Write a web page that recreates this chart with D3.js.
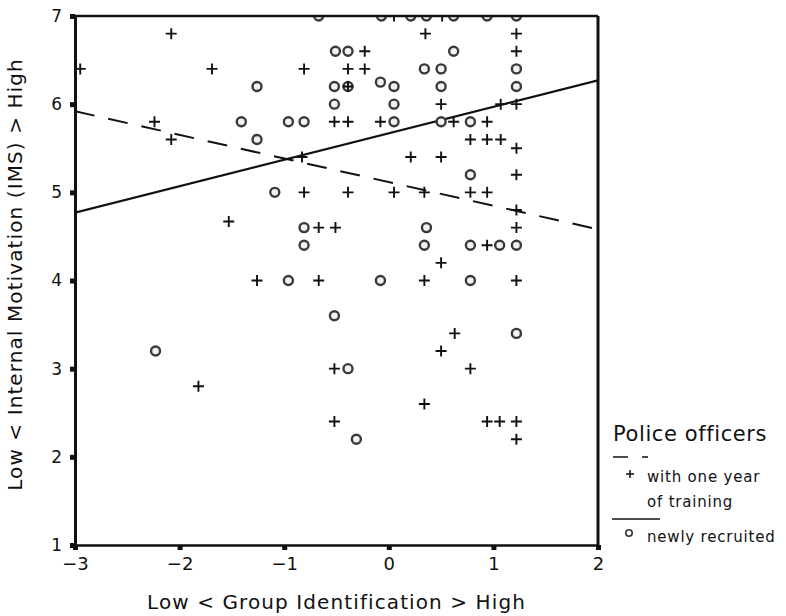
<!DOCTYPE html>
<html>
<head>
<meta charset="utf-8">
<script src="https://cdn.jsdelivr.net/npm/d3@7"></script>
<style>
  body { margin: 0; background: #fff; }
  svg { display: block; }
</style>
</head>
<body>
<svg id="chart"></svg>
<script>
// Police officers with one year of training (+)
const trainedX = [-2.95, -2.08, -1.69, -2.24, -2.08, 0.05, 0.51, 0.35, -0.23, -0.81, -0.39, -0.23,
  -0.39, 0.5, -0.52, -0.39, -0.08, 0.21, 0.5, -0.83, 1.22, 1.22, 1.07, 1.22, 0.62, 0.94,
  0.78, 0.94, 1.07, 1.22, -1.53, -1.26, -0.81, -0.39, 0.05, 0.34, -0.67, -0.51, 0.5, -0.67,
  0.34, 1.22, 0.78, 0.94, 1.22, 1.22, 0.94, 1.22, -1.82, 0.5, -0.52, 0.34, -0.52, 0.63,
  0.78, 0.94, 1.06, 1.22, 1.22];
const trainedY = [6.4, 6.8, 6.4, 5.8, 5.6, 7.0, 7.0, 6.8, 6.6, 6.4, 6.4, 6.4,
  6.2, 6.0, 5.8, 5.8, 5.8, 5.4, 5.4, 5.4, 6.8, 6.6, 6.0, 6.0, 5.8, 5.8,
  5.6, 5.6, 5.6, 5.5, 4.67, 4.0, 5.0, 5.0, 5.0, 5.0, 4.6, 4.6, 4.2, 4.0,
  4.0, 5.2, 5.0, 5.0, 4.8, 4.6, 4.4, 4.0, 2.8, 3.2, 3.0, 2.6, 2.4, 3.4,
  3.0, 2.4, 2.4, 2.4, 2.2];

// newly recruited police officers (o)
const recruitX = [-0.67, -0.07, 0.21, 0.36, 0.62, 0.94, 1.22, -0.51, -0.39, 0.62, 0.34, 0.5,
  1.22, -1.26, -0.52, -0.39, -0.08, 0.05, 0.5, 1.22, -0.52, 0.05, -1.41, -0.96, -0.81,
  0.05, 0.5, 0.78, -1.26, -1.09, 0.78, -0.81, 0.36, -0.81, 0.34, 0.78, 1.06, 1.22,
  -0.96, -0.08, 0.78, -2.23, -0.52, -0.39, -0.31, 1.22];
const recruitY = [7.0, 7.0, 7.0, 7.0, 7.0, 7.0, 7.0, 6.6, 6.6, 6.6, 6.4, 6.4,
  6.4, 6.2, 6.2, 6.2, 6.25, 6.2, 6.2, 6.2, 6.0, 6.0, 5.8, 5.8, 5.8,
  5.8, 5.8, 5.8, 5.6, 5.0, 5.2, 4.6, 4.6, 4.4, 4.4, 4.4, 4.4, 4.4,
  4.0, 4.0, 4.0, 3.2, 3.6, 3.0, 2.2, 3.4];

// regression lines (endpoints at x = -3 and x = 2)
const lineX = [-3, 2];
const trainedFit = [5.92, 4.58];
const recruitFit = [4.77, 6.27];

const xTicks = [-3, -2, -1, 0, 1, 2];
const yTicks = [1, 2, 3, 4, 5, 6, 7];

const W = 786, H = 616;
const margin = { top: 16, right: 188, bottom: 71, left: 75 };
const width = W - margin.left - margin.right;
const height = H - margin.top - margin.bottom;
const font = "'DejaVu Sans', sans-serif";

const svg = d3.select('#chart').attr('width', W).attr('height', H);
const g = svg.append('g').attr('transform', `translate(${margin.left},${margin.top})`);

const x = d3.scaleLinear().domain([-3, 2]).range([0, width]);
const y = d3.scaleLinear().domain([1, 7]).range([height, 0]);

g.append('clipPath').attr('id', 'plot-clip')
  .append('rect').attr('width', width).attr('height', height);

const plot = g.append('g').attr('clip-path', 'url(#plot-clip)');

// Regression lines
const line = d3.line().x(d => x(d[0])).y(d => y(d[1]));
plot.append('path')
  .datum(lineX.map((v, i) => [v, trainedFit[i]]))
  .attr('fill', 'none').attr('stroke', '#111').attr('stroke-width', 2)
  .attr('stroke-dasharray', '20,14')
  .attr('d', line);
plot.append('path')
  .datum(lineX.map((v, i) => [v, recruitFit[i]]))
  .attr('fill', 'none').attr('stroke', '#111').attr('stroke-width', 2.2)
  .attr('d', line);

// Circles
plot.selectAll('.rec')
  .data(recruitX.map((v, i) => [v, recruitY[i]]))
  .enter().append('circle')
  .attr('class', 'rec')
  .attr('cx', d => x(d[0])).attr('cy', d => y(d[1]))
  .attr('r', 4.5)
  .attr('fill', '#f2f2f2').attr('stroke', '#3a3a3a').attr('stroke-width', 2.4);

// Pluses
plot.selectAll('.trn')
  .data(trainedX.map((v, i) => [v, trainedY[i]]))
  .enter().append('path')
  .attr('class', 'trn')
  .attr('transform', d => `translate(${x(d[0])},${y(d[1])})`)
  .attr('d', 'M-5.5,0H5.5M0,-5.5V5.5')
  .attr('stroke', '#111').attr('stroke-width', 1.9).attr('fill', 'none');

// Axes
const xAxis = g.append('g')
  .attr('transform', `translate(0,${height})`)
  .call(d3.axisBottom(x).tickValues(xTicks).tickSize(5).tickSizeOuter(0).tickFormat(d3.format('d')));
xAxis.select('.domain').attr('stroke', '#111').attr('stroke-width', 2.5);
xAxis.selectAll('.tick line').attr('stroke', '#111').attr('stroke-width', 5);
xAxis.selectAll('.tick text')
  .attr('y', 12)
  .style('font-family', font).style('font-size', '18px').attr('fill', '#111');

const yAxis = g.append('g')
  .call(d3.axisLeft(y).tickValues(yTicks).tickSize(5).tickSizeOuter(0).tickFormat(d3.format('d')));
yAxis.select('.domain').attr('stroke', '#111').attr('stroke-width', 3);
yAxis.selectAll('.tick line').attr('stroke', '#111').attr('stroke-width', 5);
yAxis.selectAll('.tick text')
  .attr('x', -13)
  .style('font-family', font).style('font-size', '17px').attr('fill', '#111');

// Top and right borders
g.append('line').attr('x1', 0).attr('x2', width).attr('y1', 0).attr('y2', 0)
  .attr('stroke', '#111').attr('stroke-width', 2.5);
g.append('line').attr('x1', width).attr('x2', width).attr('y1', 0).attr('y2', height)
  .attr('stroke', '#111').attr('stroke-width', 3);

// Axis titles
g.append('text')
  .attr('x', width / 2).attr('y', height + 64)
  .attr('text-anchor', 'middle')
  .style('font-family', font).style('font-size', '20px').style('letter-spacing', '1.1px')
  .attr('fill', '#111')
  .text('Low < Group Identification > High');

g.append('text')
  .attr('transform', `translate(${-53},${height / 2 - 6}) rotate(-90)`)
  .attr('text-anchor', 'middle')
  .style('font-family', font).style('font-size', '20px').style('letter-spacing', '1.1px')
  .attr('fill', '#111')
  .text('Low < Internal Motivation (IMS) > High');

// Legend
const lg = svg.append('g').attr('transform', 'translate(613,0)');
lg.append('text').attr('x', 0).attr('y', 441)
  .style('font-family', font).style('font-size', '21px').style('letter-spacing', '0.6px')
  .attr('fill', '#111')
  .text('Police officers');
lg.append('line').attr('x1', 0).attr('x2', 15).attr('y1', 457).attr('y2', 457)
  .attr('stroke', '#111').attr('stroke-width', 1.5);
lg.append('line').attr('x1', 29).attr('x2', 35).attr('y1', 457).attr('y2', 457)
  .attr('stroke', '#111').attr('stroke-width', 1.5);
lg.append('path').attr('transform', 'translate(17,474)')
  .attr('d', 'M-4,0H4M0,-4V4')
  .attr('stroke', '#111').attr('stroke-width', 1.5);
lg.append('text').attr('x', 34).attr('y', 482)
  .style('font-family', font).style('font-size', '15px').style('letter-spacing', '0.8px')
  .attr('fill', '#111')
  .text('with one year');
lg.append('text').attr('x', 34).attr('y', 507)
  .style('font-family', font).style('font-size', '15px').style('letter-spacing', '0.8px')
  .attr('fill', '#111')
  .text('of training');
lg.append('line').attr('x1', -1).attr('x2', 47).attr('y1', 519).attr('y2', 519)
  .attr('stroke', '#111').attr('stroke-width', 1.5);
lg.append('circle').attr('cx', 16).attr('cy', 533).attr('r', 3.2)
  .attr('fill', '#fff').attr('stroke', '#333').attr('stroke-width', 1.6);
lg.append('text').attr('x', 34).attr('y', 542)
  .style('font-family', font).style('font-size', '15px').style('letter-spacing', '0.8px')
  .attr('fill', '#111')
  .text('newly recruited');
</script>
</body>
</html>
